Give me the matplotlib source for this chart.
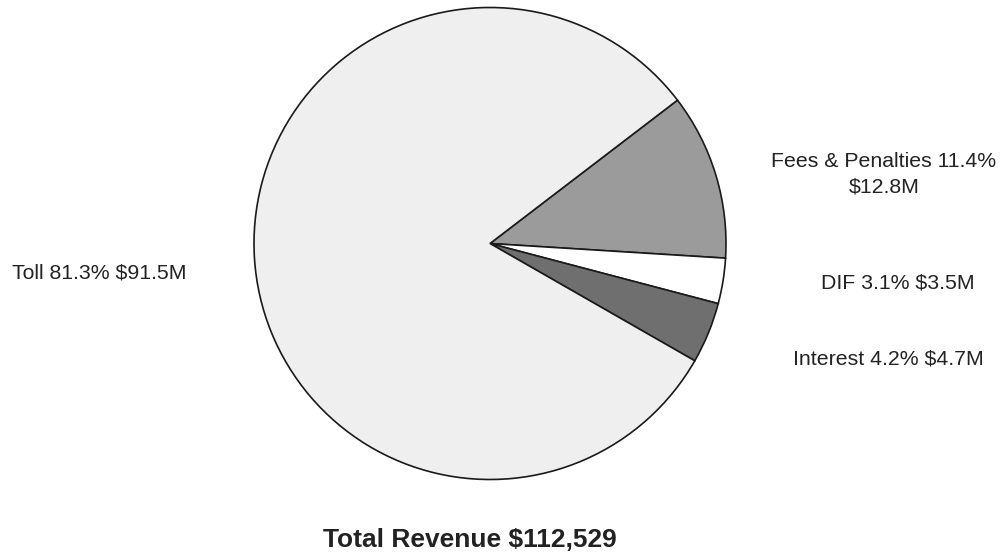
import matplotlib
matplotlib.use("Agg")
import matplotlib.pyplot as plt

categories = ["Fees & Penalties", "DIF", "Interest", "Toll"]
values_m = [12.8, 3.5, 4.7, 91.5]
percents = [11.4, 3.1, 4.2, 81.3]
colors = ["#9b9b9b", "#ffffff", "#6f6f6f", "#efefef"]
title = "Total Revenue $112,529"

W, H = 1005, 556
fig = plt.figure(figsize=(W / 100, H / 100), dpi=100)
fig.patch.set_facecolor("white")

cx, cy, r = 490, 243.5, 236
ax = fig.add_axes([(cx - r) / W, (H - cy - r) / H, 2 * r / W, 2 * r / H])
ax.pie(values_m, colors=colors, startangle=37.4, counterclock=False, radius=1.0,
       wedgeprops=dict(edgecolor="#1a1a1a", linewidth=1.2))
ax.set_xlim(-1, 1)
ax.set_ylim(-1, 1)
ax.set_aspect("equal")
ax.axis("off")

font = "Liberation Sans"
fs = 15.3
col = "#222222"

def px(x, y):
    return x / W, 1 - y / H

labels = {c: f"{c} {p}% ${v}M" for c, p, v in zip(categories, percents, values_m)}

fig.text(*px(884, 167), f"{categories[0]} {percents[0]}%", ha="center", va="baseline",
         fontsize=fs, family=font, color=col)
fig.text(*px(884, 192), f"${values_m[0]}M", ha="center", va="baseline",
         fontsize=fs, family=font, color=col)
fig.text(*px(898, 288), labels["DIF"], ha="center", va="baseline",
         fontsize=fs, family=font, color=col)
fig.text(*px(888, 365), labels["Interest"], ha="center", va="baseline",
         fontsize=fs, family=font, color=col)
fig.text(*px(12, 278), labels["Toll"], ha="left", va="baseline",
         fontsize=fs, family=font, color=col)
fig.text(*px(470, 547), title, ha="center", va="baseline",
         fontsize=19, family=font, weight="bold", color=col)

fig.savefig("out.png", dpi=100, facecolor="white")
